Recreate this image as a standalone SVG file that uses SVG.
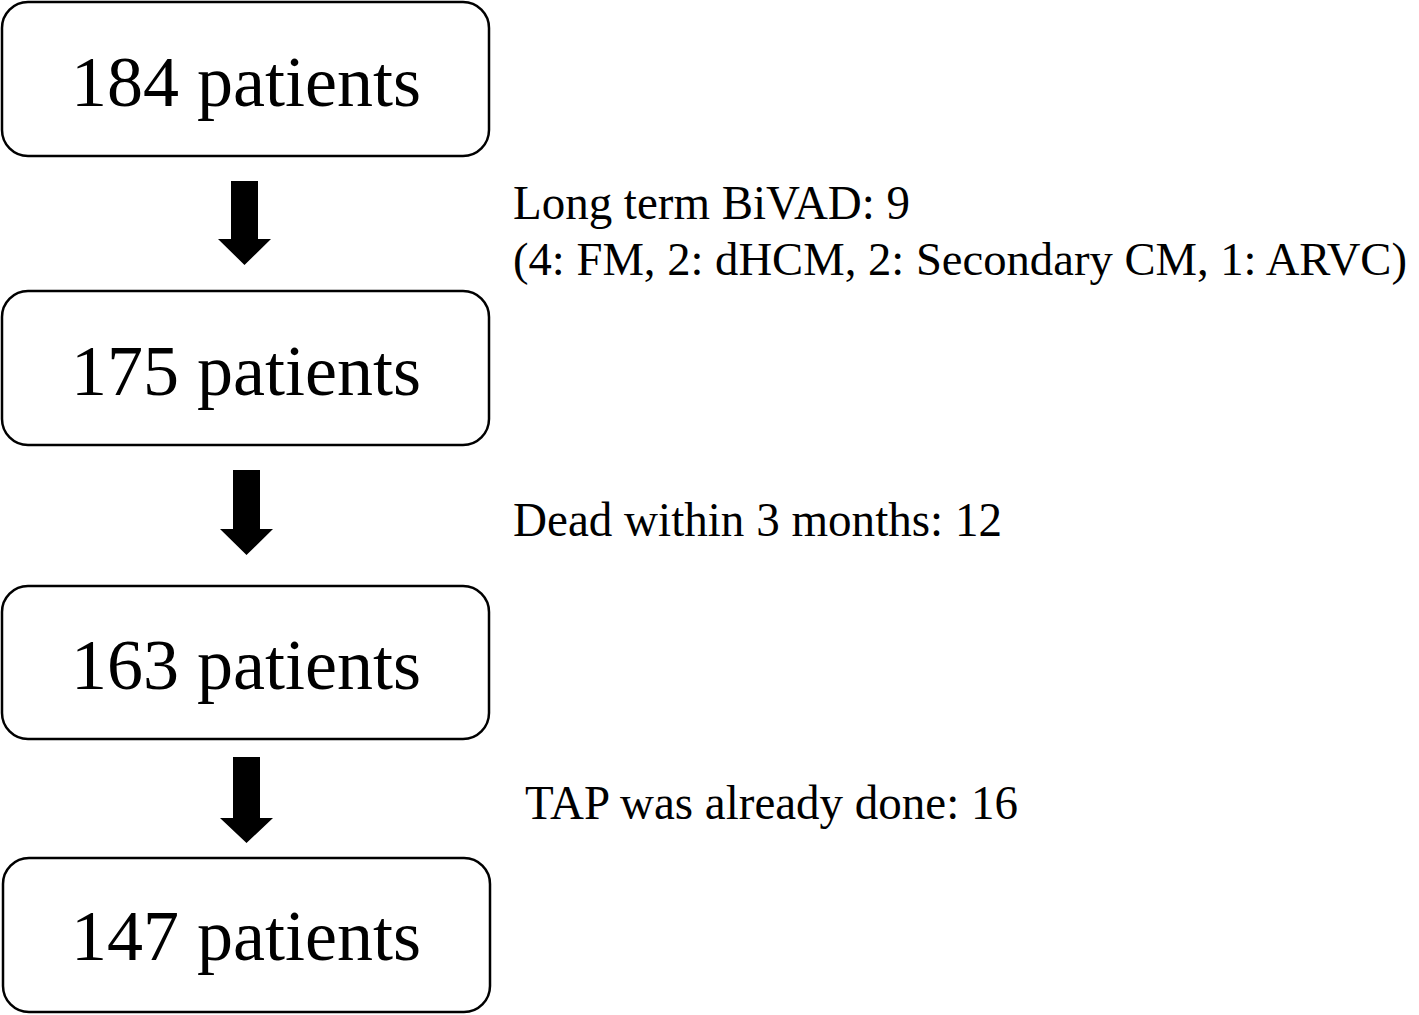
<svg xmlns="http://www.w3.org/2000/svg" width="1419" height="1015" viewBox="0 0 1419 1015">
<style>
.box{fill:#fff;stroke:#000;stroke-width:2.5}
.big{font-family:"Liberation Serif","Times New Roman",serif;font-size:72px;fill:#000;text-anchor:middle}
.side{font-family:"Liberation Serif","Times New Roman",serif;font-size:48px;fill:#000}
.arr{fill:#000}
</style>
<rect width="1419" height="1015" fill="#fff"/>
<g id="connectors">
<polygon class="arr" points="231,181 258,181 258,239 271,239 244.5,265 218,239 231,239"/>
<polygon class="arr" points="233,470 260,470 260,529 273,529 246.5,555 220,529 233,529"/>
<polygon class="arr" points="233,757 260,757 260,818 273,818 246.5,843 220,818 233,818"/>
</g>
<g id="n1"><rect class="box" x="2" y="2" width="487" height="154" rx="26"/><text class="big" x="246" y="106">184 patients</text></g>
<g id="n2"><rect class="box" x="2" y="291" width="487" height="154" rx="26"/><text class="big" x="246" y="395">175 patients</text></g>
<g id="n3"><rect class="box" x="2" y="586" width="487" height="153" rx="26"/><text class="big" x="246" y="689">163 patients</text></g>
<g id="n4"><rect class="box" x="3" y="858" width="487" height="154" rx="26"/><text class="big" x="246" y="960">147 patients</text></g>
<g id="labels">
<text class="side" x="513" y="219" textLength="397" lengthAdjust="spacingAndGlyphs">Long term BiVAD: 9</text>
<text class="side" x="513" y="275" style="font-size:46px" textLength="894" lengthAdjust="spacingAndGlyphs">(4: FM, 2: dHCM, 2: Secondary CM, 1: ARVC)</text>
<text class="side" x="513" y="536" textLength="489" lengthAdjust="spacingAndGlyphs">Dead within 3 months: 12</text>
<text class="side" x="525" y="819" textLength="493" lengthAdjust="spacingAndGlyphs">TAP was already done: 16</text>
</g>
</svg>
